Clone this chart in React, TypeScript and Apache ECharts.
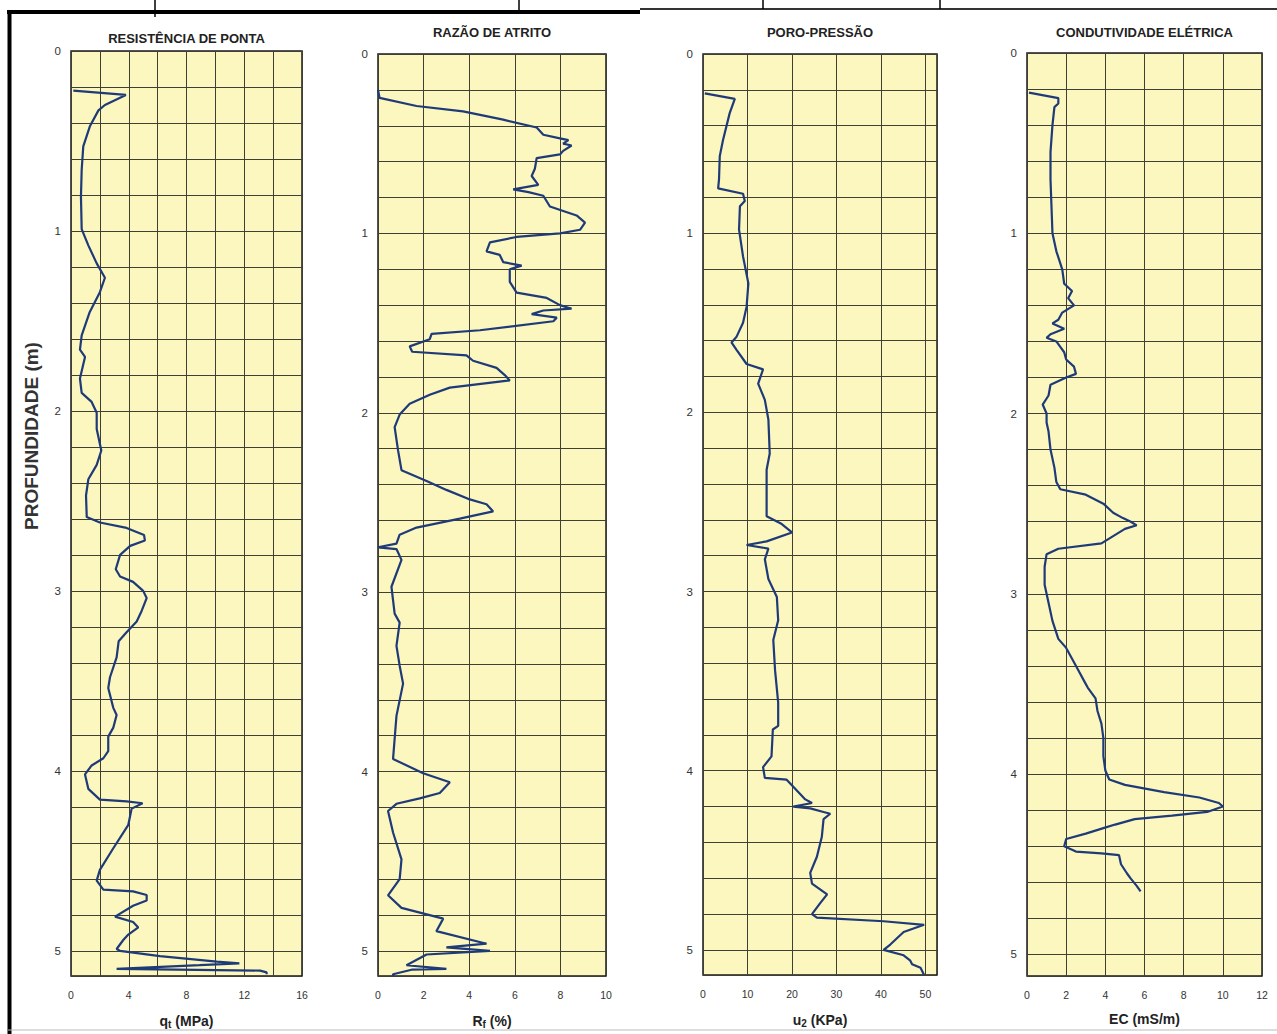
import React, { useEffect, useRef } from "react";
import * as echarts from "echarts";

// ---------- DATA ----------
const panelTitles = ["RESISTÊNCIA DE PONTA", "RAZÃO DE ATRITO", "PORO-PRESSÃO", "CONDUTIVIDADE ELÉTRICA"];
const depthAxisName = "PROFUNDIDADE (m)";

// Resistência de ponta qt (MPa)
const qtDepth = [0.22, 0.244, 0.3, 0.33, 0.42, 0.53, 0.66, 0.81, 0.99, 1.08, 1.18, 1.26, 1.34, 1.45, 1.58, 1.66, 1.7, 1.82, 1.9, 1.95, 2.01, 2.1, 2.22, 2.3, 2.38, 2.47, 2.59, 2.62, 2.65, 2.69, 2.72, 2.75, 2.8, 2.88, 2.92, 2.95, 3.0, 3.04, 3.11, 3.17, 3.23, 3.28, 3.37, 3.48, 3.54, 3.65, 3.69, 3.76, 3.81, 3.89, 3.93, 3.97, 4.02, 4.1, 4.16, 4.17, 4.18, 4.21, 4.3, 4.43, 4.55, 4.61, 4.66, 4.67, 4.69, 4.72, 4.75, 4.81, 4.84, 4.87, 4.91, 4.94, 4.99, 5.0, 5.03, 5.06, 5.07, 5.08, 5.1, 5.11, 5.12, 5.13];
const qtValues = [0.16, 3.8, 2.35, 1.9, 1.3, 0.85, 0.74, 0.69, 0.74, 1.2, 1.78, 2.35, 2.0, 1.3, 0.74, 0.62, 0.97, 0.62, 0.74, 1.43, 1.78, 1.78, 2.1, 1.78, 1.2, 1.04, 1.09, 2.0, 3.85, 5.06, 5.12, 4.1, 3.4, 3.1, 3.4, 4.3, 5.0, 5.24, 4.9, 4.55, 3.85, 3.3, 3.16, 2.7, 2.58, 2.93, 3.16, 2.93, 2.58, 2.58, 2.24, 1.43, 0.97, 1.2, 2.0, 3.85, 4.96, 4.2, 3.97, 2.93, 2.0, 1.78, 2.24, 4.3, 5.24, 5.24, 4.3, 3.05, 4.3, 4.66, 3.97, 3.62, 3.16, 3.39, 6.16, 10.1, 11.66, 8.9, 3.16, 13.1, 13.55, 13.55];

// Razão de atrito Rf (%)
const rfDepth = [0.2, 0.245, 0.29, 0.32, 0.366, 0.41, 0.45, 0.47, 0.48, 0.5, 0.51, 0.54, 0.56, 0.58, 0.64, 0.68, 0.73, 0.755, 0.77, 0.79, 0.85, 0.9, 0.94, 0.98, 1.0, 1.02, 1.05, 1.1, 1.12, 1.16, 1.18, 1.2, 1.27, 1.33, 1.36, 1.4, 1.42, 1.43, 1.45, 1.47, 1.49, 1.54, 1.56, 1.59, 1.63, 1.66, 1.68, 1.71, 1.75, 1.79, 1.82, 1.86, 1.9, 1.95, 2.01, 2.08, 2.21, 2.32, 2.38, 2.43, 2.48, 2.51, 2.55, 2.59, 2.64, 2.68, 2.73, 2.75, 2.76, 2.82, 2.97, 3.12, 3.17, 3.3, 3.41, 3.51, 3.69, 3.93, 4.01, 4.06, 4.12, 4.15, 4.18, 4.22, 4.34, 4.49, 4.6, 4.69, 4.76, 4.82, 4.89, 4.96, 4.98, 5.0, 5.02, 5.08, 5.1, 5.105, 5.13, 5.14];
const rfValues = [0.0, 0.07, 1.69, 3.73, 5.49, 6.96, 7.25, 7.98, 8.35, 8.12, 8.49, 8.12, 7.98, 6.96, 6.88, 6.74, 7.03, 5.93, 6.6, 7.25, 7.54, 8.71, 9.08, 8.86, 7.98, 6.08, 4.91, 4.76, 5.34, 5.49, 6.3, 5.78, 5.78, 6.08, 7.4, 7.98, 8.49, 7.25, 6.74, 7.84, 7.69, 4.47, 2.35, 2.27, 1.39, 1.5, 3.88, 4.17, 5.2, 5.56, 5.78, 3.15, 2.27, 1.39, 0.95, 0.73, 0.88, 1.03, 2.13, 3.0, 3.95, 4.76, 5.05, 3.59, 1.69, 0.95, 0.81, 0.0, 0.81, 1.03, 0.59, 0.73, 0.95, 0.81, 0.95, 1.1, 0.81, 0.66, 1.98, 3.15, 2.71, 1.83, 0.81, 0.44, 0.66, 1.03, 0.95, 0.44, 1.03, 2.86, 2.56, 4.76, 3.0, 4.91, 2.13, 1.25, 3.0, 1.47, 0.66, 0.66];

// Poro-pressão u2 (kPa)
const u2Depth = [0.22, 0.25, 0.33, 0.48, 0.57, 0.7, 0.75, 0.78, 0.82, 0.85, 0.98, 1.13, 1.28, 1.41, 1.5, 1.58, 1.61, 1.65, 1.73, 1.76, 1.84, 1.93, 2.04, 2.23, 2.32, 2.58, 2.62, 2.67, 2.72, 2.74, 2.76, 2.82, 2.93, 3.03, 3.16, 3.27, 3.44, 3.62, 3.75, 3.77, 3.92, 3.98, 4.04, 4.05, 4.09, 4.16, 4.18, 4.2, 4.21, 4.23, 4.24, 4.27, 4.37, 4.48, 4.57, 4.63, 4.69, 4.74, 4.8, 4.82, 4.84, 4.86, 4.9, 4.97, 5.0, 5.03, 5.06, 5.08, 5.1, 5.14];
const u2Values = [0.4, 7.15, 6.0, 4.5, 3.77, 3.6, 3.4, 9.0, 9.4, 8.3, 8.1, 9.0, 10.2, 9.8, 9.0, 7.5, 6.4, 7.5, 9.8, 13.5, 12.4, 13.9, 14.7, 15.0, 14.3, 14.3, 17.5, 20.0, 14.3, 9.8, 14.7, 13.9, 14.7, 16.6, 16.9, 15.8, 16.2, 16.9, 16.9, 15.7, 15.4, 13.5, 13.9, 18.8, 20.3, 23.0, 24.5, 20.3, 24.1, 27.1, 28.6, 27.1, 26.7, 25.6, 24.1, 24.5, 27.9, 26.3, 24.5, 25.6, 40.6, 49.7, 45.1, 42.1, 40.6, 45.1, 46.6, 47.0, 48.9, 49.7];

// Condutividade elétrica EC (mS/m)
const ecDepth = [0.22, 0.25, 0.28, 0.3, 0.4, 0.55, 0.7, 0.85, 1.0, 1.1, 1.2, 1.28, 1.32, 1.36, 1.4, 1.44, 1.48, 1.5, 1.53, 1.56, 1.58, 1.6, 1.63, 1.66, 1.7, 1.74, 1.78, 1.8, 1.84, 1.9, 1.95, 2.0, 2.05, 2.1, 2.2, 2.3, 2.38, 2.42, 2.45, 2.5, 2.55, 2.58, 2.6, 2.62, 2.64, 2.68, 2.72, 2.75, 2.78, 2.85, 2.95, 3.05, 3.15, 3.25, 3.3, 3.36, 3.42, 3.48, 3.52, 3.58, 3.65, 3.72, 3.8, 3.9, 3.98, 4.03, 4.06, 4.1, 4.13, 4.16, 4.18, 4.21, 4.23, 4.25, 4.28, 4.3, 4.33, 4.36, 4.4, 4.43, 4.44, 4.45, 4.5, 4.55, 4.58, 4.62, 4.65];
const ecValues = [0.1, 1.6, 1.6, 1.4, 1.3, 1.2, 1.2, 1.25, 1.3, 1.5, 1.8, 1.9, 2.3, 2.1, 2.4, 1.8, 1.6, 1.3, 1.9, 1.2, 1.0, 1.5, 1.7, 1.9, 2.0, 2.4, 2.5, 2.0, 1.2, 1.1, 0.8, 1.0, 1.0, 1.1, 1.2, 1.4, 1.5, 1.7, 3.0, 3.9, 4.4, 4.9, 5.3, 5.6, 5.0, 4.4, 3.8, 1.6, 1.0, 0.9, 0.9, 1.1, 1.3, 1.6, 2.0, 2.3, 2.6, 2.9, 3.1, 3.5, 3.6, 3.8, 3.9, 3.9, 4.0, 4.2, 5.0, 7.0, 8.8, 9.8, 10.0, 9.2, 7.4, 5.5, 4.5, 3.9, 3.0, 2.0, 1.9, 2.5, 3.8, 4.7, 4.8, 5.1, 5.3, 5.6, 5.8];

// Axis settings (ticks)
const xMaxes = [16, 10, 52.6, 12];
const xGridSteps = [2, 2, 10, 2];
const xLabelSteps = [4, 2, 10, 2];
const depthMaxes = [5.14, 5.14, 5.14, 5.12];
const depthGridStep = 0.2;

// ---------- LAYOUT ----------
const W = 1277;
const H = 1034;
const grids = [
  { left: 71, top: 51, width: 231, height: 926 },
  { left: 378, top: 54, width: 228, height: 928 },
  { left: 703, top: 54, width: 234, height: 921 },
  { left: 1027, top: 53, width: 235, height: 923 },
];
const titleY = [38, 32, 32, 32];
const FONT = "'Liberation Sans', Arial, Helvetica, sans-serif";
const LINE_COLOR = "#1f3a78";
const PLOT_BG = "#fbf7bf";
const GRID_LINE = "#3f3f33";

const nameRich = {
  b: { fontSize: 14, fontWeight: "bold", fontFamily: FONT, color: "#222" },
  s: { fontSize: 10, fontWeight: "bold", fontFamily: FONT, color: "#222", padding: [7, 0, 0, 0] },
};
const axisNames = [
  "{b|q}{s|t}{b| (MPa)}",
  "{b|R}{s|f}{b| (%)}",
  "{b|u}{s|2}{b| (KPa)}",
  "{b|EC (mS/m)}",
];

const seriesDepths = [qtDepth, rfDepth, u2Depth, ecDepth];
const seriesValues = [qtValues, rfValues, u2Values, ecValues];

export default function App() {
  const ref = useRef<HTMLDivElement>(null);

  useEffect(() => {
    if (!ref.current) return;
    const chart = echarts.init(ref.current, null, { renderer: "svg" });

    const isMultiple = (v: number, step: number) => {
      const r = v / step;
      return Math.abs(r - Math.round(r)) < 1e-6;
    };

    const option: any = {
      animation: false,
      backgroundColor: "#ffffff",
      grid: grids.map((g) => ({
        ...g,
        show: true,
        backgroundColor: PLOT_BG,
        borderColor: "#1a1a1a",
        borderWidth: 1.5,
        containLabel: false,
      })),
      xAxis: grids.map((_, i) => ({
        type: "value",
        gridIndex: i,
        position: "bottom",
        min: 0,
        max: xMaxes[i],
        interval: xGridSteps[i],
        axisLine: { show: false },
        axisTick: { show: false },
        splitLine: { show: true, lineStyle: { color: GRID_LINE, width: 1 } },
        axisLabel: {
          margin: 13,
          fontSize: 10.5,
          fontFamily: FONT,
          color: "#333",
          showMaxLabel: i !== 2,
          formatter: (v: number) => (isMultiple(v, xLabelSteps[i]) ? String(Math.round(v)) : ""),
        },
        name: axisNames[i],
        nameLocation: "middle",
        nameGap: 36,
        nameTextStyle: { rich: nameRich },
      })),
      yAxis: grids.map((_, i) => ({
        type: "value",
        gridIndex: i,
        inverse: true,
        min: 0,
        max: depthMaxes[i],
        interval: depthGridStep,
        axisLine: { show: false },
        axisTick: { show: false },
        splitLine: { show: true, lineStyle: { color: GRID_LINE, width: 1 } },
        axisLabel: {
          margin: 10,
          fontSize: 11.5,
          fontFamily: FONT,
          color: "#333",
          showMaxLabel: false,
          formatter: (v: number) => (isMultiple(v, 1) ? String(Math.round(v)) : ""),
        },
      })),
      series: grids.map((_, i) => ({
        type: "line",
        xAxisIndex: i,
        yAxisIndex: i,
        showSymbol: false,
        symbol: "none",
        lineStyle: { color: LINE_COLOR, width: 2.2 },
        data: seriesDepths[i].map((d, k) => [seriesValues[i][k], d]),
        z: 3,
      })),
      graphic: [
        ...panelTitles.map((t, i) => ({
          type: "text",
          x: grids[i].left + grids[i].width / 2,
          y: titleY[i],
          style: {
            text: t,
            fontSize: 13,
            fontWeight: "bold",
            fontFamily: FONT,
            fill: "#222",
            align: "center",
            verticalAlign: "middle",
          },
        })),
        {
          type: "text",
          x: 31,
          y: 436,
          rotation: Math.PI / 2,
          style: {
            text: depthAxisName,
            fontSize: 19,
            fontWeight: "bold",
            fontFamily: FONT,
            fill: "#333",
            align: "center",
            verticalAlign: "middle",
          },
        },
        // page frame lines (scanned document border)
        { type: "line", shape: { x1: 7, y1: 12, x2: 640, y2: 12 }, style: { stroke: "#000", lineWidth: 4 } },
        { type: "line", shape: { x1: 640, y1: 9, x2: W, y2: 9 }, style: { stroke: "#333", lineWidth: 2 } },
        { type: "line", shape: { x1: 9.5, y1: 10, x2: 9.5, y2: H }, style: { stroke: "#000", lineWidth: 4 } },
        { type: "line", shape: { x1: 155, y1: 0, x2: 155, y2: 17 }, style: { stroke: "#000", lineWidth: 1.5 } },
        { type: "line", shape: { x1: 519, y1: 0, x2: 519, y2: 12 }, style: { stroke: "#000", lineWidth: 1.5 } },
        { type: "line", shape: { x1: 763, y1: 0, x2: 763, y2: 9 }, style: { stroke: "#000", lineWidth: 1.5 } },
        { type: "line", shape: { x1: 940, y1: 0, x2: 940, y2: 9 }, style: { stroke: "#000", lineWidth: 1.5 } },
        { type: "line", shape: { x1: 8, y1: 1030, x2: W, y2: 1030 }, style: { stroke: "#bbb", lineWidth: 1 } },
      ],
    };

    chart.setOption(option);
    return () => chart.dispose();
  }, []);

  return (
    <div
      ref={ref}
      style={{ position: "absolute", left: 0, top: 0, width: W, height: H, background: "#fff" }}
    />
  );
}
